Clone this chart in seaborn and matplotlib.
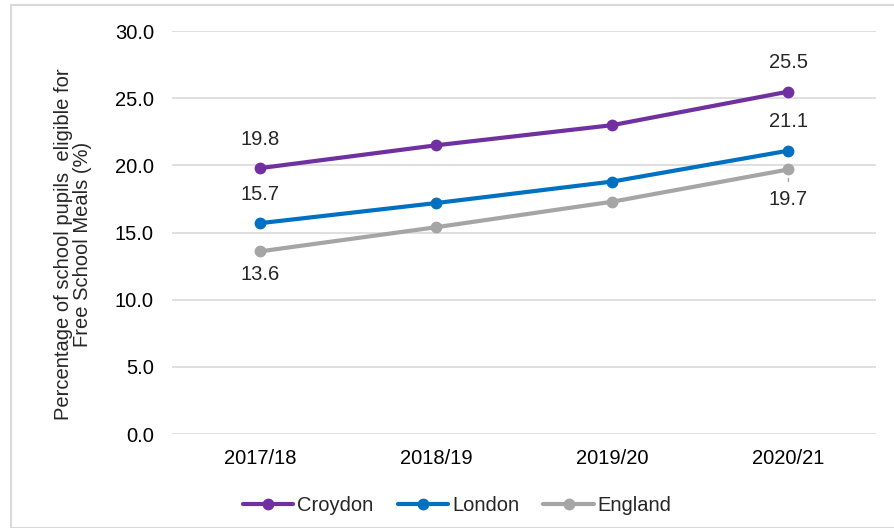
import pandas as pd
import matplotlib.pyplot as plt
import seaborn as sns
from matplotlib.patches import Rectangle

# Free School Meals eligibility (%)
years = ["2017/18", "2018/19", "2019/20", "2020/21"]
croydon = [19.8, 21.5, 23.0, 25.5]
london = [15.7, 17.2, 18.8, 21.1]
england = [13.6, 15.4, 17.3, 19.7]

areas = ["Croydon", "London", "England"]
colors = {"Croydon": "#7030A0", "London": "#0070C0", "England": "#A5A5A5"}

df = pd.DataFrame({
    "year": years * 3,
    "area": ["Croydon"] * 4 + ["London"] * 4 + ["England"] * 4,
    "value": croydon + london + england,
})

sns.set_style("white")
plt.rcParams["font.family"] = ["Liberation Sans", "DejaVu Sans"]
fs = 14.5

fig = plt.figure(figsize=(8.94, 5.28), dpi=100)
ax = fig.add_axes([0.1924, 0.178, 0.788, 0.763])

# light frame around the chart
fig.patches.append(Rectangle((11 / 894, 0), 1.2, 1 - 5 / 528, transform=fig.transFigure,
                             fill=False, edgecolor="#d9d9d9", linewidth=1.5))

sns.lineplot(data=df, x="year", y="value", hue="area", hue_order=areas,
             palette=colors, marker="o", markersize=8.5, markeredgewidth=0,
             linewidth=3, sort=False, ax=ax, zorder=3)

ax.set_ylim(0, 30)
ax.set_xlim(-0.5, 3.5)
ax.set_yticks([0, 5, 10, 15, 20, 25, 30])
ax.set_yticklabels([f"{v:.1f}" for v in [0, 5, 10, 15, 20, 25, 30]])
ax.yaxis.grid(True, color="#d9d9d9", linewidth=1.2)
ax.xaxis.grid(False)
for s in ax.spines.values():
    s.set_visible(False)
ax.tick_params(axis="both", length=0, labelsize=fs, colors="#000000")
ax.tick_params(axis="y", pad=13)
ax.tick_params(axis="x", pad=11)
ax.set_xlabel("")
ax.set_ylabel("Percentage of school pupils  eligible for\nFree School Meals (%)",
              fontsize=fs, linespacing=1.0)
ax.yaxis.set_label_coords(-0.114, 0.47)

# data labels
lab = dict(fontsize=fs, ha="center")
ax.annotate(f"{croydon[0]:.1f}", (0, croydon[0]), xytext=(0, 14), textcoords="offset points", va="bottom", **lab)
ax.annotate(f"{croydon[3]:.1f}", (3, croydon[3]), xytext=(0, 14), textcoords="offset points", va="bottom", **lab)
ax.annotate(f"{london[0]:.1f}", (0, london[0]), xytext=(0, 14), textcoords="offset points", va="bottom", **lab)
ax.annotate(f"{london[3]:.1f}", (3, london[3]), xytext=(0, 14), textcoords="offset points", va="bottom", **lab)
ax.annotate(f"{england[0]:.1f}", (0, england[0]), xytext=(0, -10), textcoords="offset points", va="top", **lab)
ax.annotate(f"{england[3]:.1f}", (3, england[3]), xytext=(0, -15), textcoords="offset points", va="top", **lab)
ax.annotate("", (3, england[3] - 0.45), xytext=(3, england[3] - 1.1),
            arrowprops=dict(arrowstyle="-", color="#A5A5A5", lw=1))

ax.legend(loc="upper center", bbox_to_anchor=(0.405, -0.11), ncol=3, frameon=False,
          fontsize=fs, handlelength=2.5, handletextpad=0.2, columnspacing=1.2)

fig.savefig("out.png", dpi=100)
